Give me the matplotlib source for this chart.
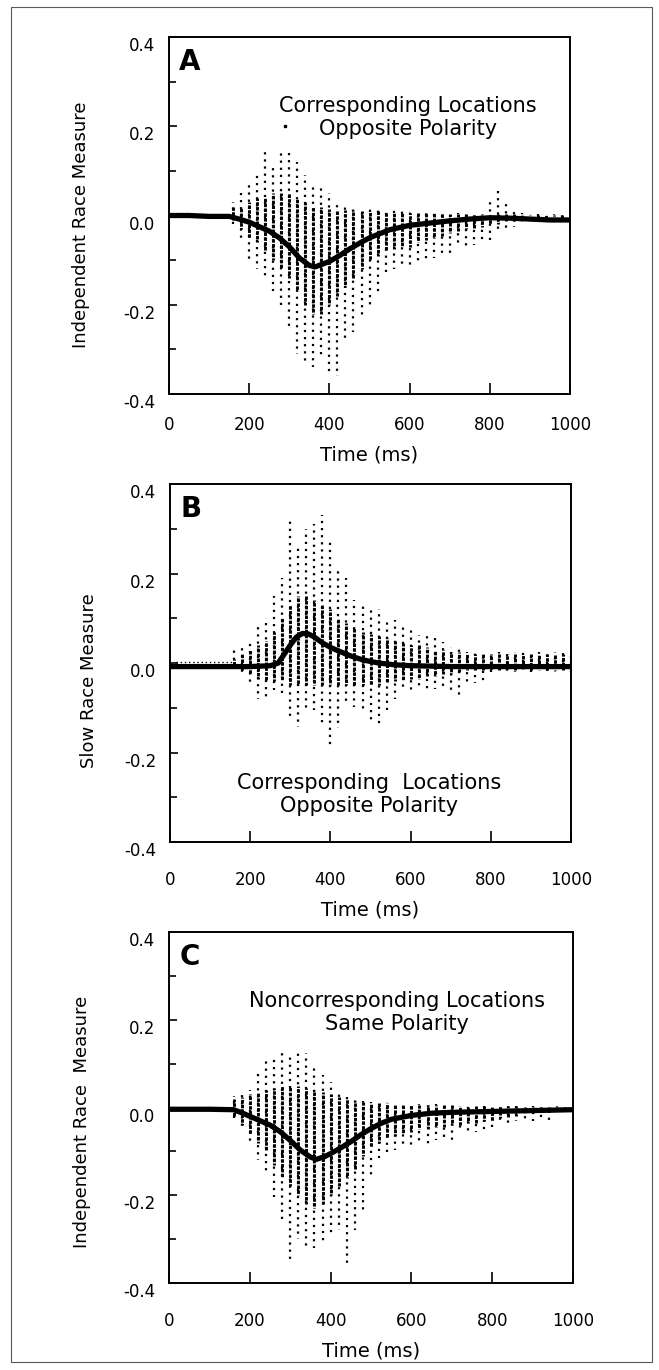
import numpy as np
import matplotlib
matplotlib.use("Agg")
import matplotlib.pyplot as plt
import matplotlib.transforms as mtransforms
from matplotlib.patches import Rectangle
from matplotlib.ticker import MultipleLocator

plt.rcParams["font.family"] = ["DejaVu Sans"]

# ---- mean curves (time in ms, measure) ----
A_MEAN_T = [0, 50, 100, 150, 175, 200, 225, 250, 275, 300, 325, 350, 365, 400, 425,
            450, 475, 500, 550, 600, 650, 700, 750, 800, 850, 900, 950, 1000]
A_MEAN_V = [0.0, 0.0, -0.002, -0.002, -0.008, -0.015, -0.025, -0.035, -0.05, -0.07,
            -0.095, -0.112, -0.115, -0.103, -0.09, -0.075, -0.062, -0.05, -0.032,
            -0.022, -0.017, -0.012, -0.008, -0.005, -0.006, -0.008, -0.01, -0.01]

B_MEAN_T = [0, 100, 200, 250, 270, 285, 300, 315, 330, 345, 360, 380, 400, 420, 450,
            480, 520, 560, 600, 700, 800, 900, 1000]
B_MEAN_V = [-0.008, -0.008, -0.008, -0.006, 0.0, 0.02, 0.04, 0.058, 0.066, 0.065,
            0.058, 0.045, 0.035, 0.027, 0.016, 0.007, 0.0, -0.004, -0.006, -0.008,
            -0.008, -0.008, -0.008]

C_MEAN_T = [0, 100, 160, 180, 200, 225, 250, 275, 300, 325, 350, 365, 385, 400, 425,
            450, 475, 500, 525, 550, 600, 650, 700, 800, 900, 1000]
C_MEAN_V = [-0.004, -0.004, -0.005, -0.012, -0.02, -0.03, -0.04, -0.055, -0.075,
            -0.097, -0.113, -0.118, -0.112, -0.105, -0.092, -0.078, -0.062, -0.048,
            -0.036, -0.027, -0.018, -0.013, -0.011, -0.009, -0.007, -0.005]

# ---- per-bin spread of individual values (columns of dots) ----
COL_T = [160, 180, 200, 220, 240, 260, 280, 300, 320, 340,
         360, 380, 400, 420, 440, 460, 480, 500, 520, 540,
         560, 580, 600, 620, 640, 660, 680, 700, 720, 740,
         760, 780, 800, 820, 840, 860, 880, 900, 920, 940,
         960, 980, 1000]

A_HI_OUT = [0.03, 0.05, 0.07, 0.10, 0.15, 0.11, 0.15, 0.14, 0.12, 0.09,
            0.07, 0.07, 0.05, 0.025, 0.02, 0.02, 0.015, 0.015, 0.015, 0.015,
            0.012, 0.012, 0.01, 0.008, 0.008, 0.008, 0.006, 0.006, 0.006, 0.005,
            0.005, 0.005, 0.03, 0.06, 0.03, 0.01, 0.006, 0.004, 0.004, 0.004,
            0.004, 0.004, 0.002]
A_LO_OUT = [-0.02, -0.06, -0.10, -0.12, -0.14, -0.17, -0.21, -0.25, -0.31, -0.33,
            -0.34, -0.32, -0.35, -0.36, -0.28, -0.26, -0.23, -0.20, -0.18, -0.13,
            -0.12, -0.115, -0.11, -0.11, -0.10, -0.095, -0.09, -0.085, -0.07, -0.07,
            -0.065, -0.06, -0.055, -0.04, -0.03, -0.025, -0.02, -0.012, -0.01, -0.01,
            -0.01, -0.01, -0.01]
A_HI_CORE = [0.02, 0.02, 0.03, 0.04, 0.04, 0.05, 0.05, 0.05, 0.04, 0.03,
             0.02, 0.02, 0.015, 0.012, 0.012, 0.012, 0.01, 0.01, 0.01, 0.008,
             0.008, 0.008, 0.006, 0.006, 0.005, 0.005, 0.005, 0.004, 0.004, 0.004,
             0.003, 0.003, 0.003, 0.003, 0.003, 0.003, 0.002, 0.002, 0.002, 0.002,
             0.002, 0.002, 0.0]
A_LO_CORE = [-0.01, -0.03, -0.05, -0.06, -0.08, -0.10, -0.12, -0.14, -0.17, -0.20,
             -0.22, -0.22, -0.20, -0.18, -0.16, -0.14, -0.12, -0.10, -0.09, -0.08,
             -0.075, -0.07, -0.07, -0.06, -0.055, -0.05, -0.045, -0.04, -0.035, -0.03,
             -0.028, -0.025, -0.02, -0.018, -0.015, -0.012, -0.01, -0.008, -0.007, -0.006,
             -0.005, -0.005, -0.005]
A_EXTRA_T = [290]
A_EXTRA_V = [0.2]

B_HI_OUT = [0.033, 0.04, 0.05, 0.08, 0.10, 0.15, 0.19, 0.32, 0.26, 0.30,
            0.31, 0.33, 0.28, 0.21, 0.19, 0.14, 0.134, 0.12, 0.12, 0.10,
            0.096, 0.08, 0.073, 0.063, 0.063, 0.06, 0.047, 0.035, 0.033, 0.025,
            0.025, 0.025, 0.025, 0.025, 0.025, 0.025, 0.025, 0.025, 0.025, 0.025,
            0.025, 0.025, 0.025]
B_LO_OUT = [-0.008, -0.03, -0.045, -0.08, -0.08, -0.06, -0.077, -0.12, -0.143, -0.105,
            -0.105, -0.14, -0.183, -0.145, -0.09, -0.098, -0.11, -0.127, -0.145, -0.11,
            -0.08, -0.06, -0.06, -0.06, -0.06, -0.058, -0.058, -0.06, -0.08, -0.045,
            -0.045, -0.045, -0.02, -0.02, -0.02, -0.02, -0.02, -0.02, -0.02, -0.02,
            -0.02, -0.02, -0.02]
B_HI_CORE = [0.01, 0.02, 0.03, 0.04, 0.05, 0.07, 0.10, 0.13, 0.15, 0.15,
             0.14, 0.13, 0.12, 0.10, 0.09, 0.08, 0.07, 0.065, 0.06, 0.055,
             0.05, 0.045, 0.04, 0.04, 0.035, 0.03, 0.03, 0.025, 0.025, 0.02,
             0.02, 0.02, 0.02, 0.02, 0.02, 0.02, 0.02, 0.02, 0.02, 0.02,
             0.02, 0.02, 0.02]
B_LO_CORE = [-0.005, -0.015, -0.025, -0.035, -0.04, -0.04, -0.04, -0.05, -0.05, -0.05,
             -0.05, -0.05, -0.05, -0.05, -0.05, -0.05, -0.05, -0.05, -0.05, -0.045,
             -0.04, -0.04, -0.035, -0.035, -0.03, -0.03, -0.025, -0.025, -0.02, -0.015,
             -0.015, -0.015, -0.015, -0.015, -0.015, -0.015, -0.015, -0.015, -0.015, -0.015,
             -0.015, -0.015, -0.015]
B_ROW_T = [15, 160]          # faint row of early values just above the line
B_ROW_V = [0.003, 0.003]

C_HI_OUT = [0.026, 0.03, 0.04, 0.082, 0.113, 0.12, 0.128, 0.12, 0.125, 0.125,
            0.10, 0.074, 0.059, 0.04, 0.028, 0.02, 0.015, 0.012, 0.012, 0.012,
            0.012, 0.008, 0.008, 0.008, 0.008, 0.008, 0.008, 0.006, 0.004, 0.004,
            0.004, 0.004, 0.004, 0.004, 0.004, 0.004, 0.004, 0.004, 0.004, 0.004,
            0.004, 0.004, 0.004]
C_LO_OUT = [-0.025, -0.052, -0.078, -0.12, -0.15, -0.203, -0.264, -0.347, -0.30, -0.32,
            -0.32, -0.31, -0.287, -0.28, -0.36, -0.28, -0.24, -0.154, -0.127, -0.105,
            -0.097, -0.09, -0.086, -0.086, -0.086, -0.074, -0.074, -0.074, -0.055, -0.055,
            -0.055, -0.055, -0.044, -0.037, -0.037, -0.03, -0.03, -0.03, -0.03, -0.03,
            -0.01, -0.01, -0.008]
C_HI_CORE = [0.02, 0.025, 0.03, 0.035, 0.04, 0.045, 0.05, 0.05, 0.05, 0.045,
             0.04, 0.035, 0.03, 0.025, 0.02, 0.015, 0.012, 0.01, 0.01, 0.01,
             0.008, 0.008, 0.006, 0.006, 0.006, 0.005, 0.005, 0.005, 0.004, 0.004,
             0.004, 0.004, 0.004, 0.003, 0.003, 0.003, 0.002, 0.002, 0.002, 0.002,
             0.002, 0.002, 0.002]
C_LO_CORE = [-0.02, -0.04, -0.06, -0.08, -0.10, -0.13, -0.16, -0.18, -0.20, -0.22,
             -0.23, -0.22, -0.20, -0.18, -0.16, -0.14, -0.11, -0.09, -0.08, -0.07,
             -0.065, -0.06, -0.055, -0.05, -0.05, -0.045, -0.045, -0.04, -0.04, -0.035,
             -0.035, -0.03, -0.03, -0.025, -0.025, -0.02, -0.015, -0.012, -0.01, -0.01,
             -0.008, -0.008, -0.006]

X_TICKS = [0, 200, 400, 600, 800, 1000]

fig = plt.figure(figsize=(6.59, 13.70), dpi=100)

# outer frame of the printed figure
fig.add_artist(Rectangle((11 / 659, 1 - 1362 / 1370), 641 / 659, 1355 / 1370,
                         transform=fig.transFigure, fill=False, lw=0.8, ec="0.35"))

panels = [
    dict(rect=[0.2565, 0.7124, 0.6085, 0.2606], letter="A",
         ylabel="Independent Race Measure", ylab_xy=(-0.197, 0.473),
         note="Corresponding Locations\nOpposite Polarity", note_xy=(0.595, 0.775),
         mean=(A_MEAN_T, A_MEAN_V), out=(A_LO_OUT, A_HI_OUT), core=(A_LO_CORE, A_HI_CORE),
         xpad=16),
    dict(rect=[0.258, 0.3854, 0.6085, 0.2613], letter="B",
         ylabel="Slow Race Measure", ylab_xy=(-0.18, 0.45),
         note="Corresponding  Locations\nOpposite Polarity", note_xy=(0.496, 0.133),
         mean=(B_MEAN_T, B_MEAN_V), out=(B_LO_OUT, B_HI_OUT), core=(B_LO_CORE, B_HI_CORE),
         xpad=21),
    dict(rect=[0.2565, 0.0635, 0.613, 0.2562], letter="C",
         ylabel="Independent Race  Measure", ylab_xy=(-0.193, 0.46),
         note="Noncorresponding Locations\nSame Polarity", note_xy=(0.564, 0.771),
         mean=(C_MEAN_T, C_MEAN_V), out=(C_LO_OUT, C_HI_OUT), core=(C_LO_CORE, C_HI_CORE),
         xpad=21),
]

axes = []
for i, p in enumerate(panels):
    ax = fig.add_axes(p["rect"])
    axes.append(ax)
    n = len(COL_T)

    # sparse outer dots, then dense core dots
    ax.vlines(COL_T, p["out"][0], p["out"][1], colors="black", lw=1.6,
              linestyles=[((k * 1.3) % 3.2, (1, 2.2)) for k in range(n)], zorder=2)
    ax.vlines(COL_T, p["core"][0], p["core"][1], colors="black", lw=2.1,
              linestyles=[((k * 0.7) % 1.5, (1.2, 0.45)) for k in range(n)], zorder=2)

    ax.plot(p["mean"][0], p["mean"][1], color="black", lw=3.8,
            solid_capstyle="butt", zorder=3)

    ax.set_xlim(0, 1000)
    ax.set_ylim(-0.4, 0.4)
    ax.set_xticks(X_TICKS)
    ax.set_yticks([-0.4, -0.2, 0.0, 0.2, 0.4])
    ax.yaxis.set_minor_locator(MultipleLocator(0.1))
    ax.set_yticklabels(["-0.4", "-0.2", "0.0", "0.2", "0.4"])
    ax.tick_params(axis="both", which="both", direction="in", top=False, right=False,
                   labelsize=12, width=1.2)
    ax.tick_params(axis="x", length=8, pad=p["xpad"])
    ax.tick_params(axis="y", which="major", length=6, pad=10)
    ax.tick_params(axis="y", which="minor", length=5)
    for s in ax.spines.values():
        s.set_linewidth(1.4)

    # labels in the print sit a little below their ticks
    off = mtransforms.ScaledTranslation(0, -0.07, fig.dpi_scale_trans)
    for lab in ax.get_yticklabels():
        lab.set_transform(lab.get_transform() + off)

    ax.set_xlabel("Time (ms)", fontsize=14, labelpad=8)
    ax.set_ylabel(p["ylabel"], fontsize=13)
    ax.yaxis.set_label_coords(*p["ylab_xy"])

    ax.text(0.052, 0.93, p["letter"], transform=ax.transAxes, fontsize=20,
            fontweight="bold", ha="center", va="center")
    ax.text(p["note_xy"][0], p["note_xy"][1], p["note"], transform=ax.transAxes,
            fontsize=15, ha="center", va="center", linespacing=1.2)

axes[0].plot(A_EXTRA_T, A_EXTRA_V, "s", color="black", ms=2.0, zorder=2)
axes[1].plot(B_ROW_T, B_ROW_V, color="black", lw=1.0, ls=(0, (1, 2)), zorder=2)

fig.savefig("out.png", dpi=100)
